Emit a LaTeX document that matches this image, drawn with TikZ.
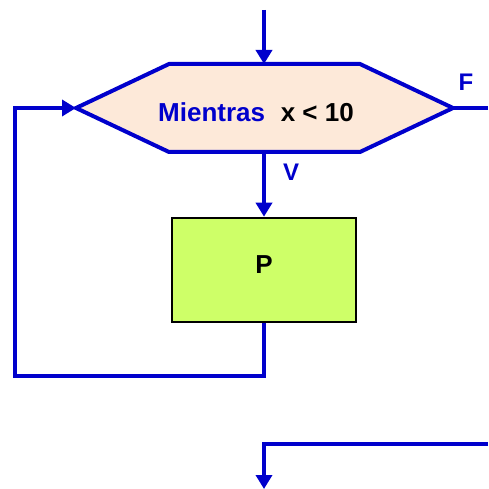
\documentclass[tikz,border=0pt]{standalone}
\usepackage{fontspec}
\setmainfont{Liberation Sans}
\usetikzlibrary{arrows.meta}
\definecolor{flujo}{RGB}{0,0,204}
\definecolor{crema}{RGB}{253,233,217}
\definecolor{limon}{RGB}{206,255,104}
\begin{document}
\begin{tikzpicture}[
  x=1pt, y=-1pt,
  linea/.style={draw=flujo, line width=4pt},
  flecha/.style={linea, -{Triangle[length=14pt,width=16pt]}},
  decision/.style={draw=flujo, line width=4pt, fill=crema},
  proceso/.style={rectangle, draw=black, line width=2.6pt, fill=limon,
    minimum width=184pt, minimum height=104pt, text depth=10pt,
    font=\fontsize{26}{30}\selectfont\bfseries},
  etiqueta/.style={text=flujo, font=\fontsize{24}{28}\selectfont\bfseries}
]
  \useasboundingbox (0,0) rectangle (488,489);
  % hexagono de la condicion
  \coordinate (hO) at (76,108);
  \coordinate (hNO) at (169,64);
  \coordinate (hN) at (264,64);
  \coordinate (hNE) at (360,64);
  \coordinate (hE) at (453,108);
  \coordinate (hSE) at (360,152);
  \coordinate (hS) at (264,152);
  \coordinate (hSO) at (169,152);
  \draw[decision] (hO) -- (hNO) -- (hNE) -- (hE) -- (hSE) -- (hSO) -- cycle;
  \node (cond) at (256,112) {\fontsize{26}{30}\selectfont\bfseries
    \textcolor{flujo}{Mientras}\hspace{0.6em}x < 10};
  \node[proceso] (proc) at (264,270) {P};
  \node[etiqueta] (falso) at (466,82) {F};
  \node[etiqueta] (verdad) at (291,172) {V};
  % puntos libres
  \coordinate (entrada) at (264,10);
  \coordinate (salida) at (488,108);
  \coordinate (esqA) at (15,376);
  \coordinate (esqB) at (15,108);
  \coordinate (finE) at (488,444);
  \coordinate (finS) at (264,489);
  % conectores
  \draw[flecha] (entrada) -- (hN);
  \draw[linea] (hE) -- (salida);
  \draw[flecha] (hS) -- (proc.north);
  \draw[flecha] (proc.south) |- (esqA) -- (esqB) -- (hO);
  \draw[flecha] (finE) -| (finS);
\end{tikzpicture}
\end{document}
